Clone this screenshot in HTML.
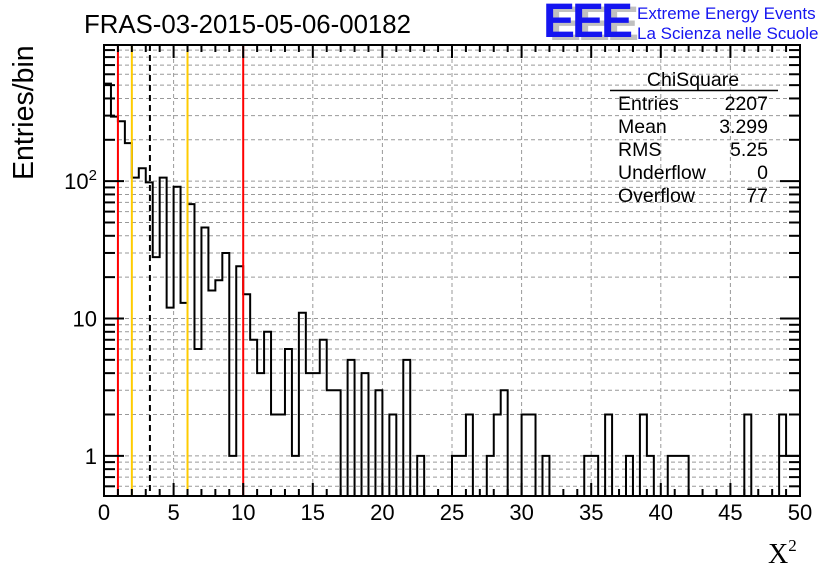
<!DOCTYPE html>
<html><head><meta charset="utf-8"><style>
body{margin:0;background:#fff;}
svg{display:block;font-family:"Liberation Sans",sans-serif;}
</style></head><body>
<svg id="chart" width="836" height="572" xmlns="http://www.w3.org/2000/svg">
<rect width="836" height="572" fill="#fff"/>
<text x="84" y="33" font-size="25.8">FRAS-03-2015-05-06-00182</text>
<g>
<text x="549" y="40" font-size="48" font-weight="bold" fill="#c0c0c0" letter-spacing="-3">EEE</text>
<text x="543" y="37" font-size="48" font-weight="bold" fill="#1515f0" letter-spacing="-3">EEE</text>
<text x="637" y="19" font-size="17" fill="#1515f0">Extreme Energy Events</text>
<text x="637" y="39" font-size="17" fill="#1515f0">La Scienza nelle Scuole</text>
</g>
<g id="grid"></g>
<g id="marks"></g>
<g id="axes"></g>
<g font-size="19.5">
<text x="693" y="86" text-anchor="middle">ChiSquare</text>
<line x1="610" y1="90.5" x2="778" y2="90.5" stroke="#000" stroke-width="1.5"/>
<text x="618" y="110">Entries</text><text x="768" y="110" text-anchor="end">2207</text>
<text x="618" y="133">Mean</text><text x="768" y="133" text-anchor="end">3.299</text>
<text x="618" y="156">RMS</text><text x="768" y="156" text-anchor="end">5.25</text>
<text x="618" y="179">Underflow</text><text x="768" y="179" text-anchor="end">0</text>
<text x="618" y="202">Overflow</text><text x="768" y="202" text-anchor="end">77</text>
</g>
<text x="0" y="0" font-size="28.5" transform="translate(33,180) rotate(-90)">Entries/bin</text>
<text x="768" y="563" font-size="28" font-family="Liberation Serif,serif">X<tspan font-size="17" dy="-12">2</tspan></text>
</svg>
<script>
const binCounts=[513,295,273,189,106,124,98,28,106,12,91,13,68,6,46,16,19,30,1,24,15,7,4,8,2,2,6,1,11,4,4,7,3,3,0,5,0,4,0,3,0,2,0,5,0,1,0,0,0,0,1,1,2,0,0,1,2,3,0,0,2,2,0,1,0,0,0,0,0,1,1,0,2,0,0,1,0,2,1,0,0,1,1,1,0,0,0,0,0,0,0,0,2,0,0,0,0,2,1,1];
const binWidth=0.5;
const xTicks=[0,5,10,15,20,25,30,35,40,45,50];
const yDecades=[1,10,100];
const yDecadeLabels=["1","10","10²"];
const markerValues=[1,2,3.299,6,10];
const markerColors=["#ff0000","#ffcc00","#000000","#ffcc00","#ff0000"];

const L=104,R=800,T=45,B=496;
const xMin=0,xMax=50,yMin=0.51,yMax=980;
const X=v=>L+(v-xMin)/(xMax-xMin)*(R-L);
const Y=v=>B-(Math.log10(v)-Math.log10(yMin))/(Math.log10(yMax)-Math.log10(yMin))*(B-T);
const NS="http://www.w3.org/2000/svg";
function mk(tag,attrs,parent){const e=document.createElementNS(NS,tag);for(const k in attrs)e.setAttribute(k,attrs[k]);parent.appendChild(e);return e;}
const grid=document.getElementById('grid'),marks=document.getElementById('marks'),axes=document.getElementById('axes');

for(const t of xTicks){if(t===xMin||t===xMax)continue;
 const g=mk('line',{x1:X(t),x2:X(t),y1:T,y2:B,stroke:'#999','stroke-dasharray':'4,3','stroke-width':1},grid);
 
 }
for(const d of yDecades){for(let m=1;m<10;m++){const v=d*m;if(v<yMin||v>yMax)continue;
 const g=mk('line',{x1:L,x2:R,y1:Y(v),y2:Y(v),stroke:'#999','stroke-dasharray':'4,3','stroke-width':1},grid);
 
 }}
for(let m=5;m<10;m++){const v=0.1*m;if(v<yMin)continue;
 const g=mk('line',{x1:L,x2:R,y1:Y(v),y2:Y(v),stroke:'#999','stroke-dasharray':'4,3','stroke-width':1},grid);
 
 }

let d='';
binCounts.forEach((c,i)=>{const x0=X(i*binWidth),x1=X((i+1)*binWidth);const y=c>0?Math.min(Y(c),B):B;
 d+=(i===0?'M'+x0+','+B+' L'+x0+','+y:' L'+x0+','+y)+' L'+x1+','+y;});
d+=' L'+R+','+B;
const h=mk('path',{d:d,fill:'none',stroke:'#000','stroke-width':2},marks);



markerValues.forEach((v,i)=>{const l=mk('line',{x1:X(v),x2:X(v),y1:T,y2:B,stroke:markerColors[i],'stroke-width':2,'stroke-dasharray':i===2?'6,4':'none'},marks);
 
 });

const f=mk('rect',{x:L,y:T,width:R-L,height:B-T,fill:'none',stroke:'#000','stroke-width':2},axes);


for(let v=xMin;v<=xMax+1e-9;v+=1){const major=(v%5===0);const len=major?13:7;
 mk('line',{x1:X(v),x2:X(v),y1:B,y2:B-len,stroke:'#000','stroke-width':2},axes);
 mk('line',{x1:X(v),x2:X(v),y1:T,y2:T+len,stroke:'#000','stroke-width':2},axes);}
xTicks.forEach(t=>{const tx=mk('text',{x:X(t),y:520,'font-size':22,'text-anchor':'middle'},axes);tx.textContent=t;
 
 });
const yt=[];for(let m=5;m<10;m++)yt.push([0.1*m,false]);
for(const dd of yDecades)for(let m=1;m<10;m++)yt.push([dd*m,m===1]);
for(const [v,maj] of yt){if(v<yMin||v>yMax)continue;const len=maj?20:11;
 mk('line',{x1:L,x2:L+len,y1:Y(v),y2:Y(v),stroke:'#000','stroke-width':2},axes);
 mk('line',{x1:R,x2:R-len,y1:Y(v),y2:Y(v),stroke:'#000','stroke-width':2},axes);}
yDecades.forEach((v,i)=>{const tx=mk('text',{x:97,y:Y(v)+8,'font-size':22,'text-anchor':'end'},axes);
 if(i===2){tx.textContent='10';const s=mk('tspan',{'font-size':15,dy:-9},tx);s.textContent='2';}else tx.textContent=yDecadeLabels[i];
 
 });
</script>
</body></html>
